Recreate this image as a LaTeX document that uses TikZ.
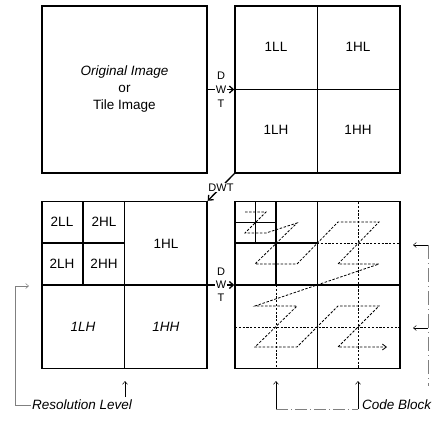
\documentclass[tikz,border=0pt]{standalone}
\usepackage{fontspec}
\setmainfont{Liberation Sans}
\usetikzlibrary{arrows.meta,positioning}

\begin{document}
\begin{tikzpicture}[
    x=1pt, y=-1pt,
    band/.style={draw, line width=1.4pt, minimum width=165pt, minimum height=167pt,
                 inner sep=0pt, font=\fontsize{13.5}{17}\selectfont, align=center},
    split/.style={line width=1.4pt},
    sub/.style={font=\fontsize{13.5}{15}\selectfont},
    wlet/.style={font=\fontsize{11}{12}\selectfont, inner sep=0.6pt},
    dwt/.style={-{Straight Barb[length=4pt,width=7pt]}, line width=1.3pt},
    cbline/.style={dash pattern=on 2.2pt off 1.6pt, line width=0.8pt},
    scan/.style={dash pattern=on 2.5pt off 1.6pt, line width=0.8pt},
    note/.style={-{Straight Barb[length=3pt,width=5pt]}, line width=0.5pt},
    noteline/.style={line width=0.5pt, gray},
]
\useasboundingbox (0,0) rectangle (440,423);

\node[band] (orig) at (124.5,89.5) {\textit{Original Image}\\or\\Tile Image};
\node[band] (lvl1) at (317.5,89.5) {};
\node[band] (lvl2) at (124.5,285) {};
\node[band] (cblk) at (317.5,285) {};

\draw[split] (lvl1.north) -- (lvl1.south) (lvl1.west) -- (lvl1.east);
\draw[split] (lvl2.north) -- (lvl2.south) (lvl2.west) -- (lvl2.east);
\draw[split] (83,202) -- (83,285) (42,243) -- (124.5,243);
\draw[split] (cblk.north) -- (cblk.south) (cblk.west) -- (cblk.east);
\draw[split] (276,202) -- (276,285) (235,243) -- (317,243);
\draw[split] (255.5,202) -- (255.5,243) (235,222.5) -- (276,222.5);
\draw[cbline] (358,202) -- (358,368) (276,285) -- (276,368)
              (317,243) -- (400,243) (235,327) -- (400,327);

\node[sub] (a1ll) at (276,47) {1LL};
\node[sub] (a1hl) at (358,47) {1HL};
\node[sub] (a1lh) at (276,130) {1LH};
\node[sub] (a1hh) at (358,130) {1HH};

\node[sub] (b2ll) at (62,222) {2LL};
\node[sub] (b2hl) at (104,222) {2HL};
\node[sub] (b2lh) at (62,264) {2LH};
\node[sub] (b2hh) at (104,264) {2HH};
\node[sub] (b1hl) at (166,244) {1HL};
\node[sub] (b1lh) at (83,327) {\textit{1LH}};
\node[sub] (b1hh) at (166,327) {\textit{1HH}};

\draw[dwt] (orig.east) -- (lvl1.west) node[midway, wlet, fill=white] (w1) {W};
\node[wlet, above=4.5pt of w1] (d1) {D};
\node[wlet, below=4.5pt of w1] (t1) {T};

\draw[dwt] (lvl1.south west) -- (lvl2.north east) node[midway, wlet, fill=white] (dwt2) {DWT};

\draw[dwt] (lvl2.east) -- (cblk.west) node[midway, wlet, fill=white] (w3) {W};
\node[wlet, above=3.5pt of w3] (d3) {D};
\node[wlet, below=3.5pt of w3] (t3) {T};

\draw[scan, -{Straight Barb[length=4pt,width=6pt]}]
    (245,212) -- (266,212) -- (245,233) -- (266,233) -- (297,223) -- (255,264) -- (297,264)
    -- (338,222) -- (379,222) -- (338,264) -- (379,264)
    -- (255,306) -- (297,306) -- (255,347) -- (297,347)
    -- (338,306) -- (379,306) -- (338,347) -- (387,347);

\node[sub, anchor=west, inner sep=1pt] (reslbl) at (31,405) {\textit{Resolution Level}};
\coordinate (resbend) at (15,286);
\coordinate (restip) at (29,286);
\draw[noteline] (reslbl.west) -| (resbend);
\draw[note, gray] (resbend) -- (restip);
\coordinate (resfoot) at (125,397);
\coordinate (reshead) at (125,381);
\draw[note] (resfoot) -- (reshead);

\node[sub, anchor=west, inner sep=1pt] (cblbl) at (361,405) {\textit{Code Block}};
\coordinate (cbfootl) at (276,409);
\coordinate (cbfootr) at (358,409);
\coordinate (cbtipl) at (276,381);
\coordinate (cbtipr) at (358,381);
\draw[note] (cbfootl) -- (cbtipl);
\draw[note] (cbfootr) -- (cbtipr);
\draw[noteline, dash pattern=on 12pt off 3pt on 1pt off 3pt] (cbfootl) -- (cbfootr);

\coordinate (rbtop) at (428,245);
\coordinate (rbmid) at (428,328);
\coordinate (rbbot) at (428,386);
\coordinate (rbtipa) at (413,245);
\coordinate (rbtipb) at (413,328);
\draw[noteline, dash pattern=on 14pt off 4pt on 1pt off 4pt] (rbtop) -- (rbbot);
\draw[note] (rbtop) -- (rbtipa);
\draw[note] (rbmid) -- (rbtipb);
\end{tikzpicture}
\end{document}
